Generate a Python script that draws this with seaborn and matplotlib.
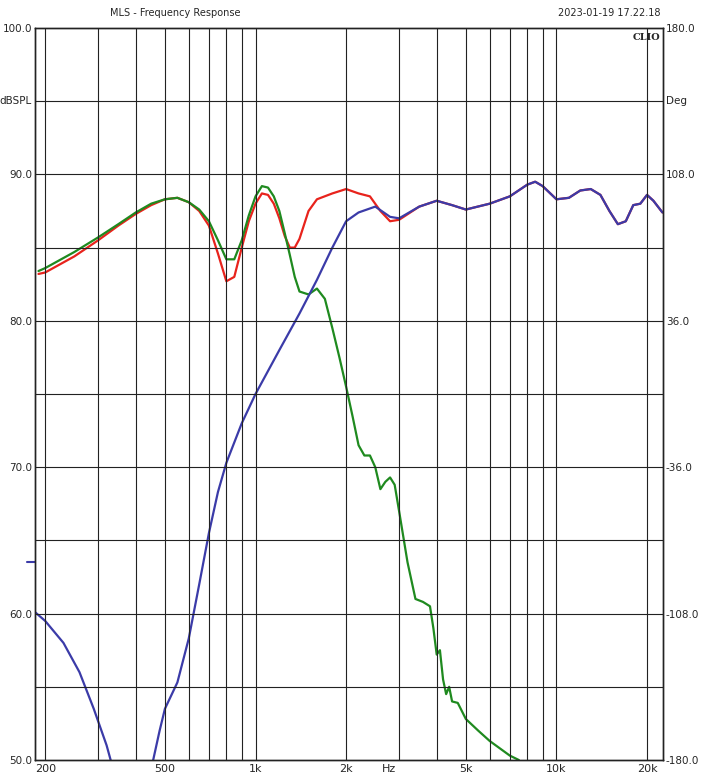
import matplotlib
matplotlib.use("Agg")
import matplotlib.pyplot as plt
import seaborn as sns
import pandas as pd
from matplotlib.ticker import FixedLocator, NullFormatter, NullLocator

sns.set_style("white")
plt.rcParams['font.family'] = ['DejaVu Sans']

red_f = [190,200,250,300,350,400,450,500,550,600,650,700,750,800,850,900,950,1000,1050,1100,1150,1200,1250,1300,1350,1400,1500,1600,1800,2000,2200,2400,2600,2800,3000,3500,4000,4500,5000,6000,7000,8000,8500,9000,10000,11000,12000,13000,14000,15000,16000,17000,18000,19000,20000,21000,22500]
red_v = [83.2,83.3,84.4,85.5,86.5,87.3,87.9,88.3,88.4,88.1,87.5,86.5,84.6,82.7,83.0,85.0,86.8,88.0,88.7,88.6,88.0,87.0,85.8,85.0,85.0,85.6,87.5,88.3,88.7,89.0,88.7,88.5,87.5,86.8,86.9,87.8,88.2,87.9,87.6,88.0,88.5,89.3,89.5,89.2,88.3,88.4,88.9,89.0,88.6,87.5,86.6,86.8,87.9,88.0,88.6,88.2,87.4]

green_f = [190,200,250,300,350,400,450,500,550,600,650,700,750,800,850,900,950,1000,1050,1100,1150,1200,1250,1300,1350,1400,1500,1600,1700,1800,1900,2000,2100,2200,2300,2400,2500,2600,2700,2800,2900,3000,3200,3400,3600,3800,3900,4000,4100,4200,4300,4400,4500,4700,5000,5500,6000,7000,7500]
green_v = [83.4,83.6,84.7,85.7,86.6,87.4,88.0,88.3,88.4,88.1,87.6,86.8,85.5,84.2,84.2,85.5,87.2,88.5,89.2,89.1,88.5,87.5,86.0,84.5,83.0,82.0,81.8,82.2,81.5,79.5,77.5,75.5,73.5,71.5,70.8,70.8,70.0,68.5,69.0,69.3,68.8,67.0,63.5,61.0,60.8,60.5,59.0,57.2,57.5,55.5,54.5,55.0,54.0,53.9,52.8,52.0,51.3,50.3,50.0]

blue_f = [457,480,500,550,600,650,700,750,800,900,1000,1200,1400,1600,1800,2000,2200,2500,2800,3000,3500,4000,4500,5000,6000,7000,8000,8500,9000,10000,11000,12000,13000,14000,15000,16000,17000,18000,19000,20000,21000,22500]
blue_v = [50.0,52.0,53.5,55.3,58.3,62.0,65.5,68.3,70.3,73.0,75.0,78.0,80.5,82.8,85.0,86.8,87.4,87.8,87.1,87.0,87.8,88.2,87.9,87.6,88.0,88.5,89.3,89.5,89.2,88.3,88.4,88.9,89.0,88.6,87.5,86.6,86.8,87.9,88.0,88.6,88.2,87.4]

blue_lo_f = [185,200,230,260,290,320,330]
blue_lo_v = [60.1,59.5,58.0,56.0,53.5,51.0,50.0]

xtick_vals = [200,500,1000,2000,5000,10000,20000]
xtick_labels = ["200","500","1k","2k","5k","10k","20k"]
ytick_vals = [50,60,70,80,90,100]
ytick_labels = ["50.0","60.0","70.0","80.0","90.0","100.0"]
deg_labels = ["-180.0","-108.0","-36.0","36.0","108.0","180.0"]

fig = plt.figure(figsize=(7.05,7.84), dpi=100)
ax = fig.add_axes([35/705, 24/784, 628/705, 732/784])

for f, v, c in [(red_f, red_v, "#e8231c"), (green_f, green_v, "#1f8a1f"),
                (blue_f, blue_v, "#3b3ba8"), (blue_lo_f, blue_lo_v, "#3b3ba8")]:
    sns.lineplot(x=f, y=v, ax=ax, color=c, lw=1.6, sort=False)

ax.set_xscale("log")
ax.set_xlim(185, 22600)
ax.set_ylim(50, 100)
grid_x = [200,300,400,500,600,700,800,900,1000,2000,3000,4000,5000,6000,7000,8000,9000,10000,20000]
for g in grid_x:
    ax.axvline(g, color="#222222", lw=0.8)
for g in range(55, 100, 5):
    ax.axhline(g, color="#222222", lw=0.8)
ax.xaxis.set_major_locator(FixedLocator(xtick_vals + [2780]))
ax.set_xticklabels(xtick_labels + ["Hz"])
ax.xaxis.set_minor_locator(NullLocator())
ax.xaxis.set_minor_formatter(NullFormatter())
ax.tick_params(axis='x', length=0, labelsize=8, pad=3)
ax.set_yticks(ytick_vals)
ax.set_yticklabels(ytick_labels)
ax.tick_params(axis='y', length=0, labelsize=7.5, pad=2)
ax.text(-0.005, 95, "dBSPL", transform=ax.get_yaxis_transform(), ha="right", va="center", fontsize=7.5)
ax2 = ax.twinx()
ax2.set_ylim(-180, 180)
ax2.set_yticks([-180,-108,-36,36,108,180])
ax2.set_yticklabels(deg_labels)
ax2.tick_params(axis='y', length=0, labelsize=7.5, pad=2)
ax2.text(1.005, 144, "Deg", transform=ax2.get_yaxis_transform(), ha="left", va="center", fontsize=7.5)
for a in (ax, ax2):
    for s in a.spines.values():
        s.set_color("#222222"); s.set_linewidth(1)
ax.plot([-0.012, 0.0], [63.5, 63.5], transform=ax.get_yaxis_transform(), color="#3b3ba8", lw=1.5, clip_on=False)
fig.text(110/705, 1-13/784, "MLS - Frequency Response", fontsize=7, va="center")
fig.text(660/705, 1-13/784, "2023-01-19 17.22.18", fontsize=7, va="center", ha="right")
ax.text(0.995, 0.993, "CLIO", transform=ax.transAxes, ha="right", va="top", fontsize=7, fontweight="bold", family="DejaVu Serif")
fig.savefig("out.png", dpi=100, facecolor="white")
